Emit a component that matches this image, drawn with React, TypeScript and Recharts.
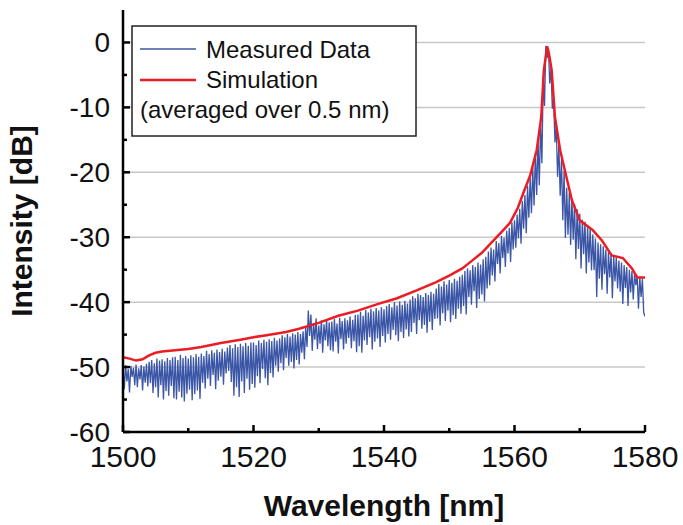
import { LineChart, Line, XAxis, YAxis, CartesianGrid } from 'recharts';

const FONT = '"Liberation Sans", Arial, sans-serif';
const BLUE = '#3b56a6';
const RED = '#ec1c24';

// measured spectrum, 1500 nm .. 1580 nm in 0.2 nm steps
const MEASURED_START = 1500;
const MEASURED_STEP = 0.2;
const measuredDb = [
  -50.0, -53.4, -49.7, -52.2, -50.3, -53.9, -49.8, -51.5, -50.1, -52.8, -49.6, -53.1, -50.2, -51.9, -49.7, -53.6, -49.9, -52.4, -49.5, -53.0,
  -49.2, -52.5, -48.9, -54.0, -49.4, -53.1, -48.7, -54.7, -49.0, -52.8, -48.8, -55.0, -49.1, -53.7, -48.6, -54.4, -48.9, -52.9, -48.5, -54.8,
  -48.4, -55.0, -48.9, -53.8, -48.1, -54.7, -48.6, -55.3, -48.3, -54.1, -48.7, -53.5, -48.2, -55.1, -48.5, -54.2, -48.0, -53.6, -48.4, -54.9,
  -47.9, -52.4, -48.3, -53.3, -47.5, -51.8, -48.0, -52.9, -47.4, -51.2, -47.8, -53.4, -47.3, -52.1, -47.7, -51.5, -47.2, -52.7, -47.6, -51.0,
  -47.0, -50.6, -46.6, -52.3, -47.1, -54.4, -46.5, -53.1, -46.9, -54.6, -46.4, -52.2, -46.8, -54.0, -46.3, -51.8, -46.7, -53.5, -46.2, -52.6,
  -46.2, -53.2, -46.6, -51.4, -45.9, -52.5, -46.3, -50.3, -45.8, -51.7, -46.1, -52.8, -45.7, -50.9, -46.0, -51.6, -45.5, -49.8, -45.9, -50.7,
  -45.6, -49.4, -45.1, -50.5, -45.4, -48.6, -44.9, -49.8, -45.3, -49.2, -44.8, -50.2, -45.0, -48.9, -44.6, -49.6, -44.9, -47.8, -44.5, -48.8,
  -43.8, -46.9, -41.3, -45.2, -41.9, -47.5, -43.2, -45.8, -42.5, -47.2, -43.6, -46.4, -42.8, -47.8, -43.4, -45.9, -42.7, -46.8, -43.1, -47.4,
  -43.0, -47.6, -42.6, -46.1, -43.3, -47.9, -42.4, -45.7, -42.9, -47.3, -42.5, -46.4, -42.8, -45.5, -42.2, -47.1, -42.7, -46.0, -42.0, -47.7,
  -41.9, -46.8, -41.5, -47.8, -42.1, -45.9, -41.2, -46.6, -41.6, -45.4, -41.0, -47.3, -41.4, -46.1, -40.9, -45.6, -41.3, -46.9, -40.8, -45.2,
  -41.1, -46.2, -40.6, -44.9, -40.3, -45.8, -40.8, -44.3, -40.0, -45.1, -40.5, -46.0, -39.9, -44.6, -40.4, -45.5, -39.8, -44.2, -40.2, -45.3,
  -39.6, -44.6, -39.1, -43.2, -39.4, -44.9, -38.7, -42.8, -38.9, -44.1, -39.2, -43.5, -38.6, -44.7, -38.9, -43.0, -38.4, -44.3, -38.7, -42.6,
  -37.9, -42.5, -37.2, -43.6, -37.6, -41.7, -36.8, -42.9, -37.3, -41.3, -36.6, -43.1, -37.0, -42.0, -36.4, -42.6, -36.7, -41.0, -36.1, -41.8,
  -35.8, -40.6, -35.2, -41.9, -34.8, -39.2, -35.1, -40.4, -34.3, -38.3, -34.6, -40.9, -33.9, -39.5, -34.2, -38.8, -33.4, -39.9, -33.0, -37.9,
  -32.2, -37.4, -31.6, -35.9, -31.9, -36.8, -30.6, -34.1, -30.9, -35.6, -29.8, -33.2, -30.1, -34.6, -29.0, -32.5, -28.6, -33.8, -27.7, -31.9,
  -27.4, -31.6, -26.5, -30.2, -25.6, -31.0, -24.4, -28.7, -23.5, -29.4, -22.1, -27.0, -20.8, -26.3, -19.3, -25.1, -17.0, -23.5, -14.8, -22.0,
  -12.5, -18.6, -5.2, -9.8, -0.5, -2.4, -0.9, -6.3, -4.1, -10.2, -8.6, -15.4, -12.9, -20.7, -15.8, -23.6, -18.0, -27.4, -19.8, -30.1,
  -22.4, -29.6, -23.1, -31.2, -24.1, -30.4, -24.9, -33.4, -25.7, -31.8, -26.4, -34.8, -27.3, -32.6, -27.6, -35.6, -28.2, -33.9, -28.5, -35.1,
  -29.6, -35.1, -30.2, -39.2, -30.8, -36.4, -31.1, -38.1, -31.4, -35.7, -31.9, -38.7, -32.3, -36.2, -32.5, -39.4, -32.8, -36.8, -33.1, -37.9,
  -33.6, -38.4, -33.9, -40.3, -34.3, -37.8, -34.6, -40.6, -35.0, -38.5, -35.2, -39.6, -35.6, -37.4, -35.9, -41.0, -36.1, -39.2, -36.4, -41.6,
  -42.2,
];

// simulation (averaged over 0.5 nm)
const simWl = [
  1500, 1501, 1502, 1503, 1504, 1505, 1506, 1508, 1510, 1512, 1515, 1518, 1520, 1522, 1525, 1527,
  1530, 1533, 1536, 1539, 1542, 1545, 1548, 1550, 1552, 1553.5, 1555, 1556.5, 1558, 1559.3, 1560.5,
  1561.5, 1562.4, 1563.4, 1564.1, 1564.5, 1565.0, 1565.3, 1565.7, 1566.2, 1567.0, 1567.9, 1568.8,
  1570.0, 1572.0, 1573.4, 1574.9, 1576.6, 1578.0, 1578.8, 1580,
];
const simDb = [
  -48.5, -48.7, -49.0, -48.8, -48.2, -47.8, -47.6, -47.4, -47.2, -46.9, -46.3, -45.8, -45.4, -45.1, -44.6, -44.1,
  -43.2, -42.1, -41.3, -40.3, -39.4, -38.2, -36.9, -35.9, -34.8, -33.6, -32.4, -30.8, -29.2, -27.8, -25.5,
  -22.8, -20.5, -16.6, -11.5, -4.3, -0.6, -1.8, -4.3, -11.5, -16.6, -20.5, -24.3,
  -27.4, -28.9, -30.5, -32.8, -33.2, -34.8, -36.2, -36.2,
];

const xMajor = [1500, 1520, 1540, 1560, 1580];
const xMinor = [1510, 1530, 1550, 1570];
const yMajor = [-60, -50, -40, -30, -20, -10, 0];
const yMinor = [-55, -45, -35, -25, -15, -5];
const gridValues = [-50, -40, -30, -20, -10, 0];

const measuredData = measuredDb.map((db, i) => ({
  wl: +(MEASURED_START + i * MEASURED_STEP).toFixed(1),
  db,
}));
const simData = simWl.map((wl, i) => ({ wl, db: simDb[i] }));

const xTicks = [...xMajor, ...xMinor].sort((a, b) => a - b);
const yTicks = [...yMajor, ...yMinor].sort((a, b) => a - b);

const MAJ = 7;
const MIN = 4;

function BottomTick({ x, y, payload }: any) {
  const major = xMajor.includes(payload.value);
  return (
    <g>
      <line x1={x} y1={y} x2={x} y2={y - (major ? MAJ : MIN)} stroke="#000" strokeWidth={2.5} />
      {major && (
        <text x={x} y={y + 35} textAnchor="middle" fontSize={30} fontFamily={FONT} fill="#111">
          {payload.value}
        </text>
      )}
    </g>
  );
}

function TopTick({ x, y, payload }: any) {
  const major = xMajor.includes(payload.value);
  return <line x1={x} y1={y} x2={x} y2={y + (major ? MAJ : MIN)} stroke="#000" strokeWidth={2.5} />;
}

function LeftTick({ x, y, payload }: any) {
  const major = yMajor.includes(payload.value);
  return (
    <g>
      <line x1={x} y1={y} x2={x + (major ? MAJ : MIN)} y2={y} stroke="#000" strokeWidth={2.5} />
      {major && (
        <text x={x - 13} y={y} dy="0.35em" textAnchor="end" fontSize={28} fontFamily={FONT} fill="#111">
          {payload.value}
        </text>
      )}
    </g>
  );
}

function RightTick({ x, y, payload }: any) {
  const major = yMajor.includes(payload.value);
  return <line x1={x} y1={y} x2={x - (major ? MAJ : MIN)} y2={y} stroke="#000" strokeWidth={2.5} />;
}

function LegendBox() {
  return (
    <svg width={286} height={112} style={{ display: 'block' }}>
      <rect x={1} y={1} width={284} height={110} fill="#fff" stroke="#222" strokeWidth={1.5} />
      <line x1={9} y1={24} x2={65} y2={24} stroke={BLUE} strokeWidth={1.3} />
      <line x1={9} y1={55} x2={65} y2={55} stroke={RED} strokeWidth={2.5} />
      <g fontFamily={FONT} fontSize={24} fill="#111">
        <text x={75} y={33}>Measured Data</text>
        <text x={75} y={63}>Simulation</text>
        <text x={9} y={93}>(averaged over 0.5 nm)</text>
      </g>
    </svg>
  );
}

export default function App() {
  return (
    <div style={{ position: 'absolute', left: 0, top: 0, width: 683, height: 525, background: '#fff' }}>
      <LineChart width={683} height={525} margin={{ top: 10, right: 38, bottom: 0, left: 0 }}>
        <CartesianGrid
          vertical={false}
          horizontalValues={gridValues}
          stroke="#c8c8c8"
          strokeWidth={1.5}
          yAxisId="left"
          xAxisId="bottom"
        />
        <XAxis
          xAxisId="bottom"
          dataKey="wl"
          type="number"
          domain={[1500, 1580]}
          allowDataOverflow
          ticks={xTicks}
          interval={0}
          height={93}
          tickSize={0}
          tickMargin={0}
          tickLine={false}
          tick={<BottomTick />}
          axisLine={{ stroke: '#000', strokeWidth: 2.5 }}
        />
        <XAxis
          xAxisId="top"
          orientation="top"
          type="number"
          domain={[1500, 1580]}
          allowDataOverflow
          ticks={xTicks}
          interval={0}
          height={0}
          tickSize={0}
          tickMargin={0}
          tickLine={false}
          tick={<TopTick />}
          axisLine={{ stroke: '#000', strokeWidth: 2.5 }}
        />
        <YAxis
          yAxisId="left"
          type="number"
          domain={[-60, 5]}
          allowDataOverflow
          ticks={yTicks}
          interval={0}
          width={123}
          tickSize={0}
          tickMargin={0}
          tickLine={false}
          tick={<LeftTick />}
          axisLine={{ stroke: '#000', strokeWidth: 2.5 }}
          label={{
            value: 'Intensity [dB]',
            angle: -90,
            position: 'insideLeft',
            offset: 21,
            style: { fontFamily: FONT, fontSize: 30, fontWeight: 'bold', fill: '#111', textAnchor: 'middle' },
          }}
        />
        <YAxis
          yAxisId="right"
          orientation="right"
          type="number"
          domain={[-60, 5]}
          allowDataOverflow
          ticks={yTicks}
          interval={0}
          width={0}
          tickSize={0}
          tickMargin={0}
          tickLine={false}
          tick={<RightTick />}
          axisLine={{ stroke: '#000', strokeWidth: 2.5 }}
        />
        <Line
          xAxisId="bottom"
          yAxisId="left"
          data={measuredData}
          dataKey="db"
          name="Measured Data"
          type="linear"
          stroke={BLUE}
          strokeWidth={1.3}
          dot={false}
          activeDot={false}
          isAnimationActive={false}
        />
        <Line
          xAxisId="bottom"
          yAxisId="left"
          data={simData}
          dataKey="db"
          name="Simulation"
          type="linear"
          stroke={RED}
          strokeWidth={2.5}
          dot={false}
          activeDot={false}
          isAnimationActive={false}
        />
      </LineChart>
      <div style={{ position: 'absolute', left: 131, top: 25 }}>
        <LegendBox />
      </div>
      <div
        style={{
          position: 'absolute',
          left: 0,
          top: 489,
          width: 683 + 123 - 38,
          textAlign: 'center',
          fontFamily: FONT,
          fontSize: 30,
          fontWeight: 'bold',
          color: '#111',
          pointerEvents: 'none',
        }}
      >
        Wavelength [nm]
      </div>
    </div>
  );
}
